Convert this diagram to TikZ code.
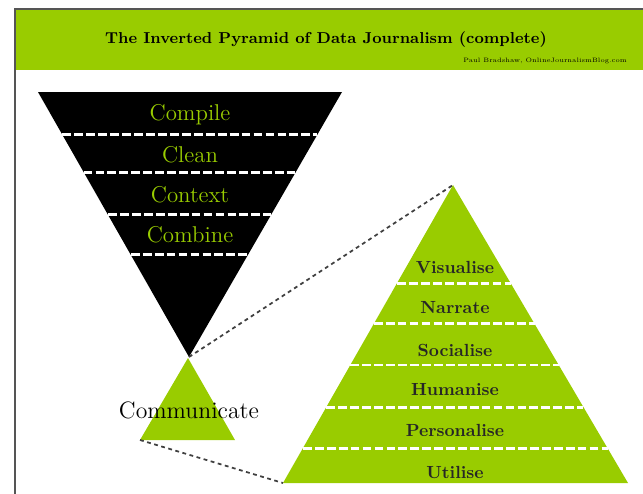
\documentclass[tikz,border=0pt]{standalone}
\usepackage{tikz}
\usetikzlibrary{calc,positioning}

\definecolor{lime}{HTML}{99CC00}
\definecolor{framegray}{HTML}{555555}

\begin{document}
\begin{tikzpicture}[
    x=0.02cm, y=-0.02cm,
    stage/.style={font=\fontsize{13}{15}\selectfont, text=lime},
    layer/.style={font=\fontsize{10}{12}\selectfont\bfseries, text=black!85},
    split/.style={white, line width=1.7pt, dash pattern=on 5pt off 1.8pt},
    zoomline/.style={black!75, line width=1pt, dash pattern=on 2.2pt off 2pt}
]
\useasboundingbox (0,0) rectangle (643,494);

% Header band and frame
\fill[lime] (15,9) rectangle (643,70);
\draw[framegray, line width=0.8pt] (15,494) -- (15,9) -- (643,9);
\node[font=\fontsize{9}{11}\selectfont\bfseries] (title) at (326,40) {The Inverted Pyramid of Data Journalism (complete)};
\node[font=\fontsize{3.6}{4}\selectfont, anchor=east] (credit) at (633,61) {Paul Bradshaw, OnlineJournalismBlog.com};

% Inverted pyramid
\coordinate (itl) at (38,92);
\coordinate (itr) at (342,92);
\coordinate (iapex) at (189,357);
\fill[black] (itl) -- (itr) -- (iapex) -- cycle;
\foreach \t in {0.162,0.302,0.464,0.615}
    \draw[split] ($(itl)!\t!(iapex)$) -- ($(itr)!\t!(iapex)$);
\node[stage] (compile) at (190,115) {Compile};
\node[stage] (clean) at (190,155) {Clean};
\node[stage] (context) at (190,195) {Context};
\node[stage] (combine) at (190,235) {Combine};

% Communicate
\coordinate (capex) at (188,358);
\coordinate (cbl) at (140,440);
\coordinate (cbr) at (235,440);
\fill[lime] (capex) -- (cbl) -- (cbr) -- cycle;
\node[font=\fontsize{13.5}{15}\selectfont] (communicate) at (189,410) {Communicate};

% Output pyramid
\coordinate (papex) at (453,185);
\coordinate (pbl) at (283,483);
\coordinate (pbr) at (628,483);
\fill[lime] (papex) -- (pbl) -- (pbr) -- cycle;
\foreach \t in {0.329,0.466,0.604,0.745,0.883}
    \draw[split] ($(papex)!\t!(pbl)$) -- ($(papex)!\t!(pbr)$);
\node[layer] (visualise) at (455,267) {Visualise};
\node[layer] (narrate) at (455,308) {Narrate};
\node[layer] (socialise) at (455,350) {Socialise};
\node[layer] (humanise) at (455,390) {Humanise};
\node[layer] (personalise) at (455,430) {Personalise};
\node[layer] (utilise) at (455,472) {Utilise};

% Zoom lines
\draw[zoomline] (iapex) -- (papex);
\draw[zoomline] (cbl) -- (pbl);

\end{tikzpicture}
\end{document}
